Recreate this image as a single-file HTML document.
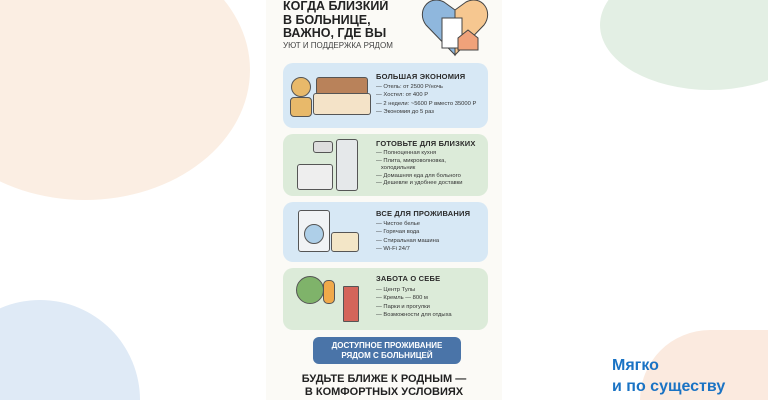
<!DOCTYPE html>
<html><head><meta charset="utf-8"><style>
html,body{margin:0;width:768px;height:400px;overflow:hidden}
body{background:#fff;position:relative;font-family:"Liberation Sans","Noto Sans CJK SC",sans-serif}
.wrap{position:absolute;left:0;top:0;width:768px;height:400px;overflow:hidden}
.b{position:absolute;border-radius:50%}
.poster{position:absolute;left:266px;top:0;width:236px;height:400px;background:#fbfaf6}
.t{position:absolute;color:#222;font-weight:bold}
.card{position:absolute;left:283px;width:205px;border-radius:10px}
.card h4{position:absolute;left:93px;margin:0;font-size:7.5px;color:#2b2b2b;letter-spacing:.2px}
.card ul{position:absolute;left:93px;margin:0;padding:0;list-style:none;font-size:5.8px;color:#333;line-height:8.3px}
.card li:before{content:"— "}
.ic{position:absolute;border:1.5px solid #555;border-radius:3px}
</style></head><body><div class="wrap">
<div class="b" style="left:-80px;top:-60px;width:330px;height:260px;background:#fbeee3"></div>
<div class="b" style="left:-60px;top:300px;width:200px;height:100px;border-radius:100px 100px 0 0;background:#dfeaf6"></div>
<div class="b" style="left:600px;top:-40px;width:220px;height:130px;background:#e3efe4"></div>
<div class="b" style="left:640px;top:330px;width:220px;height:70px;border-radius:110px 110px 0 0;background:#fbeadf"></div>
<div class="poster"></div>
<div class="t" style="left:283px;top:0px;font-size:12.5px;line-height:13.5px">КОГДА БЛИЗКИЙ<br>В БОЛЬНИЦЕ,<br>ВАЖНО, ГДЕ ВЫ</div>
<div class="t" style="left:283px;top:41px;font-size:8px;font-weight:normal;color:#444">УЮТ И ПОДДЕРЖКА РЯДОМ</div>
<svg style="position:absolute;left:420px;top:0" width="70" height="58"><path d="M35 55 L6 25 C-4 12 8 -6 24 2 L35 10 Z" fill="#8fb7dd" stroke="#444"/><path d="M35 55 L64 25 C74 12 62 -6 46 2 L35 10 Z" fill="#f6c790" stroke="#444"/><rect x="22" y="18" width="20" height="30" fill="#fff" stroke="#444"/><path d="M38 50 V38 L48 30 L58 38 V50 Z" fill="#f0a27a" stroke="#444"/></svg>
<div class="card" style="top:63px;height:65px;background:#d7e8f5">
<h4 style="top:9px">БОЛЬШАЯ ЭКОНОМИЯ</h4>
<ul style="top:20px"><li>Отель: от 2500 Р/ночь</li><li>Хостел: от 400 Р</li><li>2 недели: ~5600 Р вместо 35000 Р</li><li>Экономия до 5 раз</li></ul>
<div class="b" style="left:8px;top:14px;width:18px;height:18px;background:#e8b96a;border:1px solid #555"></div>
<div class="ic" style="left:7px;top:34px;width:20px;height:18px;background:#e8b96a;border-radius:4px"></div>
<div class="ic" style="left:33px;top:14px;width:50px;height:16px;background:#b9825a"></div>
<div class="ic" style="left:30px;top:30px;width:56px;height:20px;background:#f4e3c8"></div>
</div>
<div class="card" style="top:134px;height:62px;background:#dcebd9">
<h4 style="top:5px">ГОТОВЬТЕ ДЛЯ БЛИЗКИХ</h4>
<ul style="top:16px;line-height:7.6px"><li>Полноценная кухня</li><li>Плита, микроволновка,<br>&nbsp;&nbsp;&nbsp;холодильник</li><li>Домашняя еда для больного</li><li>Дешевле и удобнее доставки</li></ul>
<div class="ic" style="left:14px;top:30px;width:34px;height:24px;background:#eee"></div>
<div class="ic" style="left:30px;top:7px;width:18px;height:10px;background:#ddd"></div>
<div class="ic" style="left:53px;top:5px;width:20px;height:50px;background:#e5e8ea"></div>
</div>
<div class="card" style="top:202px;height:60px;background:#d7e8f5">
<h4 style="top:7px">ВСЕ ДЛЯ ПРОЖИВАНИЯ</h4>
<ul style="top:18px"><li>Чистое белье</li><li>Горячая вода</li><li>Стиральная машина</li><li>Wi-Fi 24/7</li></ul>
<div class="ic" style="left:15px;top:8px;width:30px;height:40px;background:#f1f3f5"></div>
<div class="b" style="left:21px;top:22px;width:18px;height:18px;border:1.5px solid #555;background:#aecfe8"></div>
<div class="ic" style="left:48px;top:30px;width:26px;height:18px;background:#f3e6c7"></div>
</div>
<div class="card" style="top:268px;height:62px;background:#dcebd9">
<h4 style="top:6px">ЗАБОТА О СЕБЕ</h4>
<ul style="top:18px"><li>Центр Тулы</li><li>Кремль — 800 м</li><li>Парки и прогулки</li><li>Возможности для отдыха</li></ul>
<div class="b" style="left:13px;top:8px;width:26px;height:26px;background:#7fb36a;border:1.5px solid #555"></div>
<div class="ic" style="left:40px;top:12px;width:10px;height:22px;background:#f0a94a;border-radius:5px"></div>
<div class="ic" style="left:60px;top:18px;width:14px;height:34px;background:#d4655a;border-radius:1px"></div>
</div>
<div style="position:absolute;left:313px;top:337px;width:148px;height:27px;border-radius:6px;background:#4a74a8;color:#fff;font-weight:bold;font-size:8px;text-align:center;line-height:10px;padding-top:3.5px;box-sizing:border-box">ДОСТУПНОЕ ПРОЖИВАНИЕ<br>РЯДОМ С БОЛЬНИЦЕЙ</div>
<div class="t" style="left:266px;width:236px;top:373px;text-align:center;font-size:11px;line-height:13px">БУДЬТЕ БЛИЖЕ К РОДНЫМ —<br>В КОМФОРТНЫХ УСЛОВИЯХ</div>
<div style="position:absolute;left:612px;top:355px;color:#1a73c4;font-weight:bold;font-size:16px;line-height:21px">Мягко<br>и по существу</div>
</div></body></html>
